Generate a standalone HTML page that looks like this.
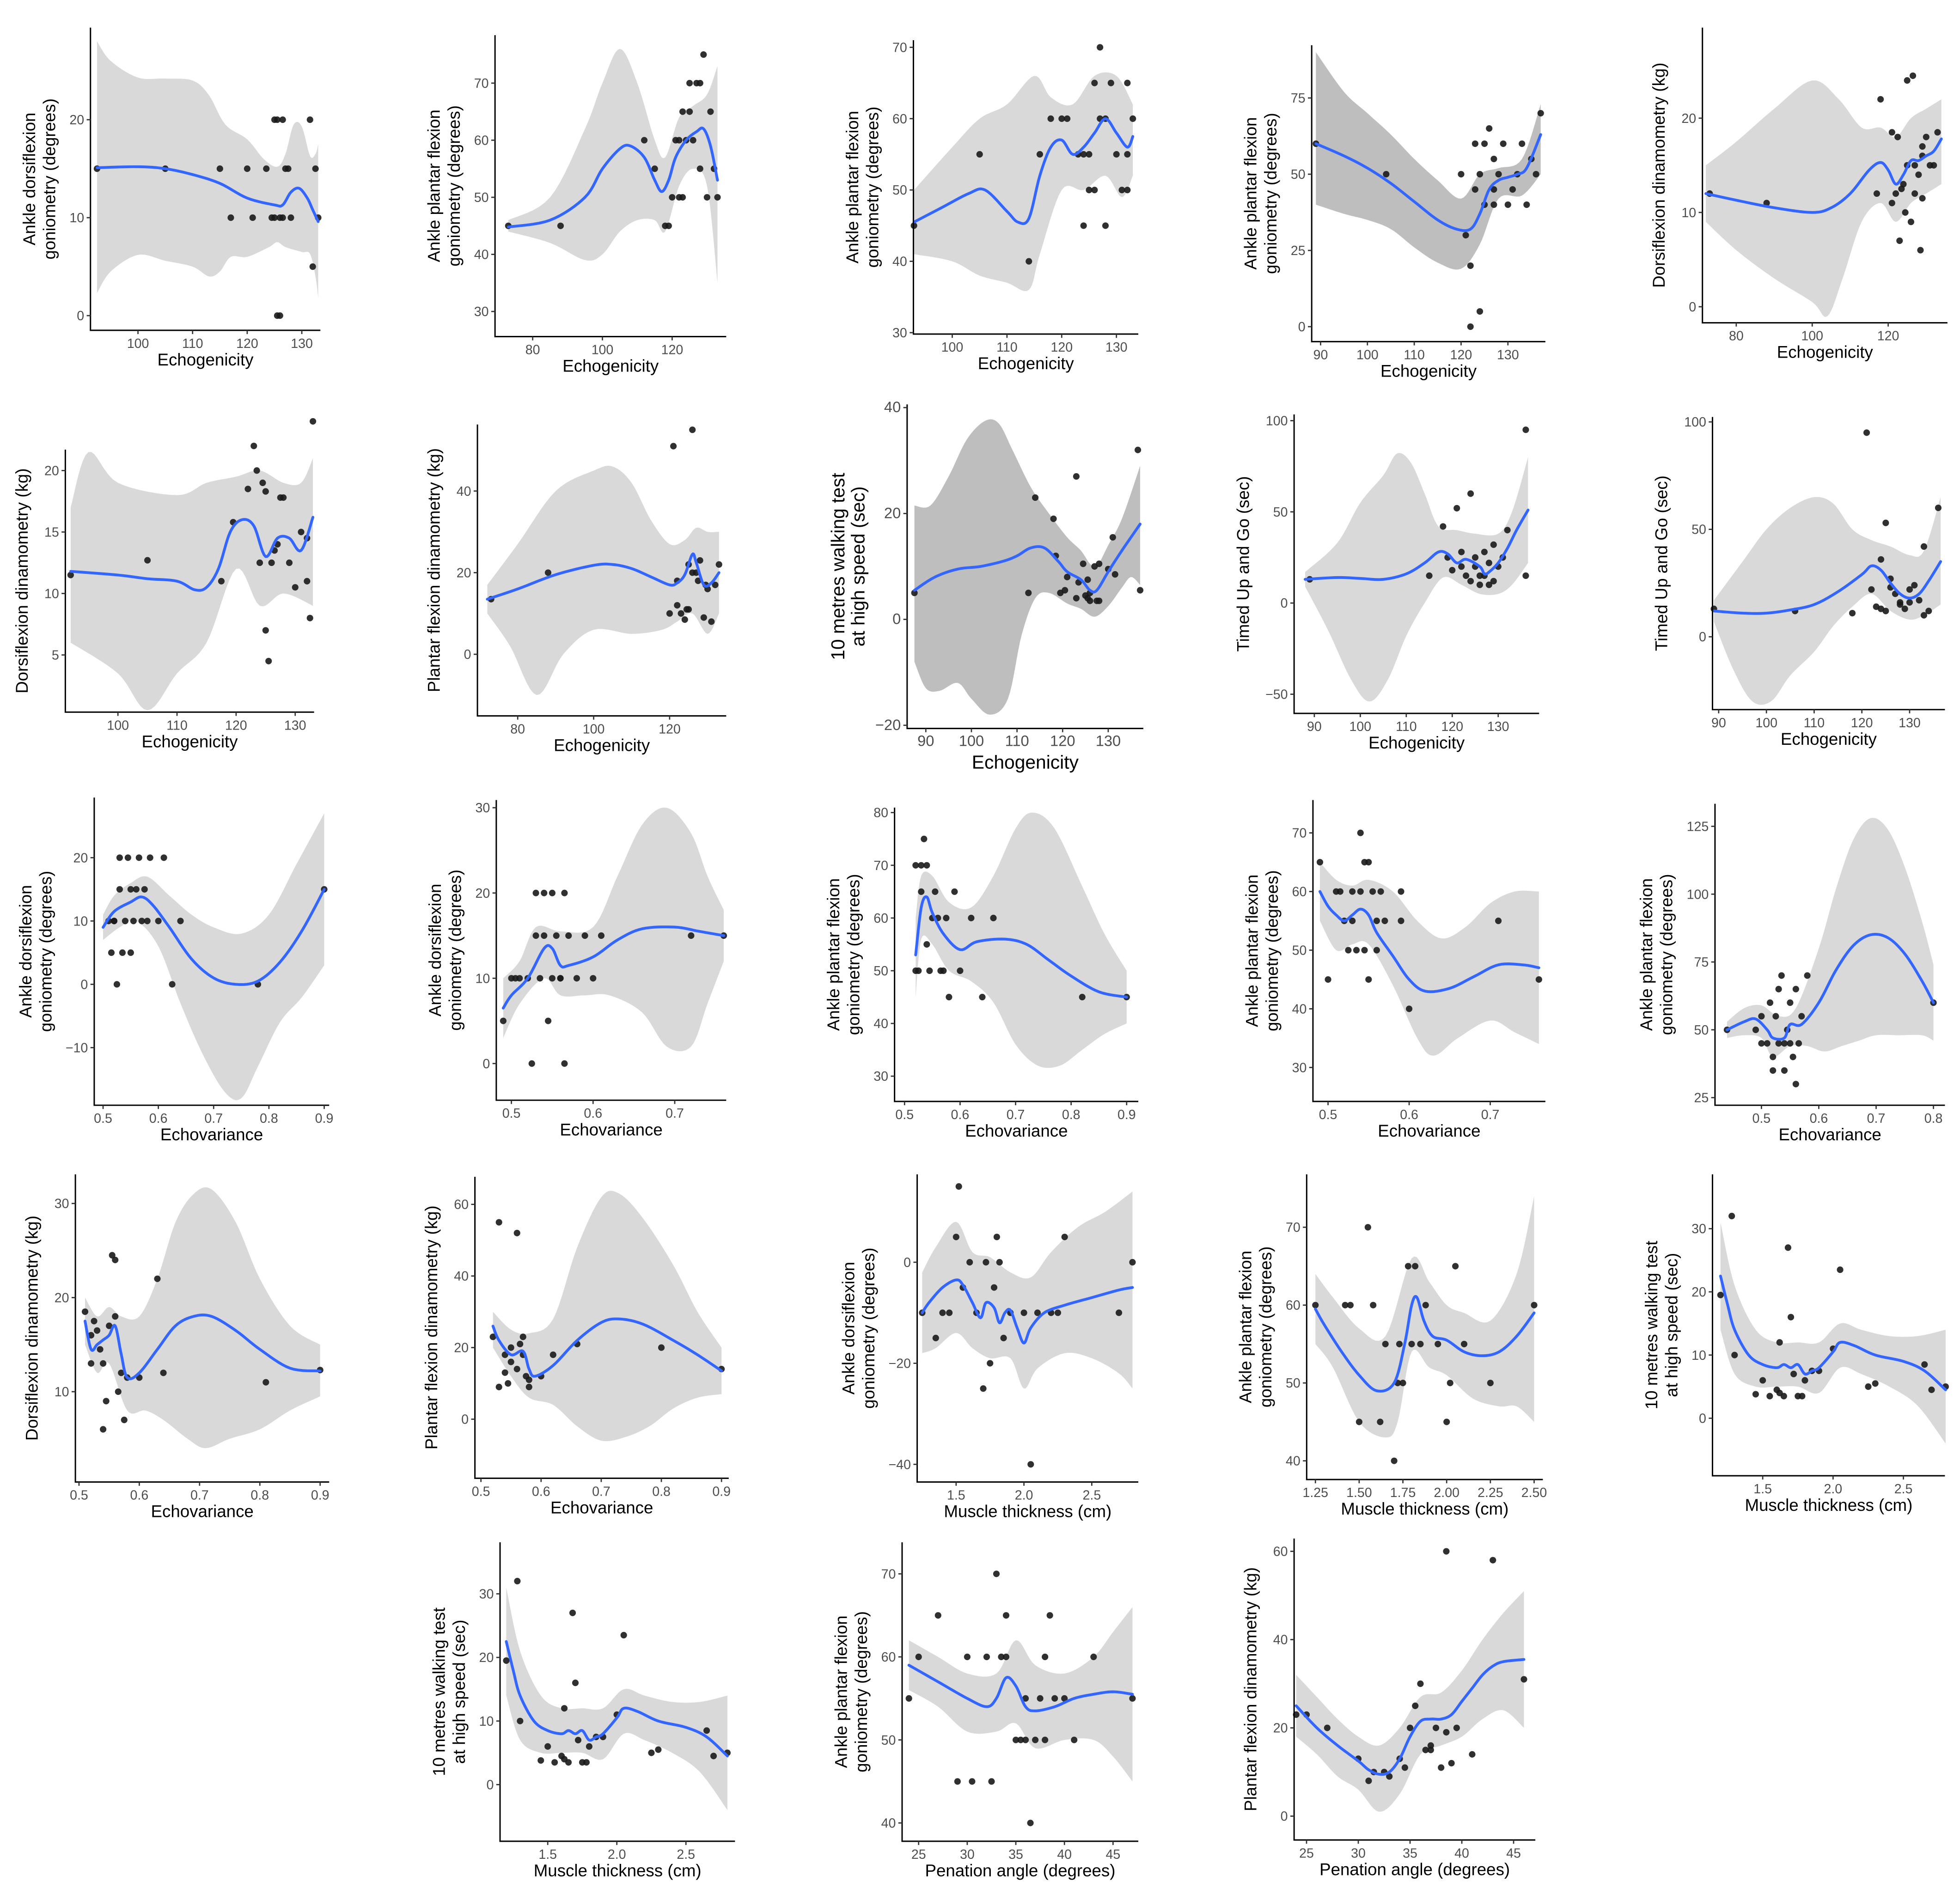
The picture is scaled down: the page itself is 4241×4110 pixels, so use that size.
<!DOCTYPE html>
<html><head><meta charset="utf-8"><style>
html,body{margin:0;padding:0;background:#fff;}
svg{display:block;}
text{font-family:"Liberation Sans",Arial,sans-serif;}
</style></head><body>
<svg id="fig" width="4241" height="4110" viewBox="0 0 1560 1512" preserveAspectRatio="none" xmlns="http://www.w3.org/2000/svg"></svg>
<script>
// ---- data (x,y pairs) ----
const p1Pts=[[92.5,15],[105,15],[115,15],[117,10],[120,15],[121,10],[123.5,15],[124.5,10],[125,20],[125.5,20],[125,10],[125.5,0],[126,0],[126.5,20],[126,10],[127,15],[127.5,15],[128,10],[131.5,20],[132.5,15],[132,5],[133,10],[126.5,10]];
const p1Fit=[[92.5,15.1],[100,15.2],[105,15],[110,14.4],[115,13.5],[120,12],[125,11.3],[126.5,11.3],[128,12.6],[129.5,13],[131,12],[132,10.8],[133,9.6]];
const p1Hi=[[92.5,28],[95,26],[100,24.3],[105,24.2],[110,24],[113,22.5],[116,19.5],[120,18],[123,16],[125.5,15.2],[127,16.5],[128.5,19.5],[130,19.3],[131.5,16.3],[132.5,16.5],[133,17.5]];
const p1Lo=[[92.5,2.3],[95,4.5],[100,6.2],[105,5.6],[110,5],[113,4],[115,4.5],[117,6],[120,6],[124,7],[125.5,7.5],[127,7],[130,6.5],[131.5,6.3],[132.5,4],[133,1.8]];
const p2Pts=[[73,45],[88,45],[112,60],[115,55],[118,45],[119,45],[120,50],[121,60],[122,60],[122,50],[123,65],[123,50],[124,60],[125,70],[125,65],[126,60],[127,70],[128,70],[128,55],[129,75],[130,50],[131,65],[132,55],[133,50]];
const p2Fit=[[73,44.8],[85,46],[95,50],[100,55],[105,58.5],[108,59],[112,57],[115,53],[117,51],[119,53],[121,57],[124,60],[127,61.5],[129,62],[131,59],[133,53]];
const p2Hi=[[73,46],[85,50],[95,62],[100,70],[105,76],[110,70],[115,60],[118,57],[122,64],[126,66],[130,68],[133,73]];
const p2Lo=[[73,44],[85,42],[95,39],[100,40],[105,44],[110,46],[115,46],[118,44],[122,52],[126,55],[130,52],[133,35]];
const p3Pts=[[93,45],[105,55],[114,40],[116,55],[118,60],[120,60],[121,60],[123,55],[124,45],[124,55],[125,55],[125,50],[126,50],[126,65],[127,70],[127,60],[128,60],[128,45],[129,65],[130,55],[131,50],[132,65],[132,55],[133,60],[132,50]];
const p3Fit=[[93,45.5],[98,47.5],[103,49.5],[106,50],[110,47],[112,45.5],[114,46],[116,52],[118,56],[120,57],[122,55],[124,56],[126,58],[128,60],[130,58],[132,56],[133,57.5]];
const p3Hi=[[93,50],[100,56],[105,60],[110,62],[115,66],[118,63],[122,62],[126,66],[130,66],[133,62]];
const p3Lo=[[93,41],[100,40],[105,38],[110,37],[114,36],[116,41],[120,50],[124,50],[128,52],[131,49],[133,52]];
const p4Pts=[[89,60],[104,50],[120,50],[121,30],[122,20],[122,0],[123,45],[124,5],[124,50],[125,40],[125,60],[126,65],[127,45],[127,40],[128,50],[129,60],[130,40],[131,45],[132,50],[133,60],[134,40],[135,55],[136,50],[137,70],[123,60],[127,55]];
const p4Fit=[[89,60],[95,56],[100,52],[105,47],[110,41],[115,35],[119,32],[122,32],[124,37],[126,45],[128,48],[130,49],[132,50],[134,52],[137,63]];
const p4Hi=[[89,90],[95,77],[100,70],[105,63],[110,55],[115,48],[120,42],[124,50],[128,52],[133,55],[137,73]];
const p4Lo=[[89,40],[95,37],[100,35],[105,32],[110,26],[115,21],[120,19],[124,27],[128,42],[133,43],[137,50]];
const p5Pts=[[73,12],[88,11],[117,12],[118,22],[121,18.5],[121,11],[122,12],[122.5,18],[123,7],[123.5,12.5],[124,13],[124.5,10],[125,24],[125,15],[126,9],[126.5,24.5],[127,15],[127,12],[128,14],[128.5,6],[129,17],[129,16],[130,18],[131,15],[132,15],[133,18.5],[129,11.5]];
const p5Fit=[[72,12],[80,11.3],[90,10.5],[100,10],[105,10.5],[110,12],[115,14.5],[118,15.3],[120,14.5],[122,13],[124,14],[126,15.5],[128,15.5],[130,16],[132,16.5],[134,17.8]];
const p5Hi=[[72,15],[80,17.5],[90,21],[100,24],[107,22],[113,19],[118,19],[122,18],[126,20],[130,21],[134,22]];
const p5Lo=[[72,9],[80,6],[90,3],[100,0.5],[104,-1],[108,3],[113,9],[118,11],[122,9],[126,11],[130,12],[134,13]];
const p6Pts=[[92,11.5],[105,12.7],[117.5,11],[119.5,15.8],[122,18.5],[123,22],[123.5,20],[124,12.5],[124.5,19],[125,7],[125.5,4.5],[125,18.3],[126,12.5],[126.5,13.5],[127,14],[127.5,17.8],[128,17.8],[129,12.5],[130,10.5],[131,15],[132,11],[132.5,8],[133,24],[132,14.5]];
const p6Fit=[[92,11.8],[100,11.5],[105,11.2],[110,11],[113,10.3],[115,10.5],[117,12],[119,15],[121,16],[123,15.5],[125,13],[127,14.5],[129,14.5],[131,13.5],[133,16.2]];
const p6Hi=[[92,17],[95,21.5],[100,19],[110,18],[115,19],[120,19.5],[124,20],[128,19],[131,19],[133,21]];
const p6Lo=[[92,6],[100,3.5],[105,0.5],[110,3.5],[115,6],[120,12],[124,9],[128,10],[133,9]];
const p7Pts=[[73,13.5],[88,20],[121,51],[122,12],[123,10],[124,8.5],[124.5,11],[125,22],[126,55],[126,20],[127,20],[127.5,18],[128,23],[129,9],[129.5,17],[130,16],[131,8],[132,17],[133,22],[125,11],[122,18],[120,10]];
const p7Fit=[[72,13.5],[80,16],[90,19.5],[100,21.8],[105,22],[110,21],[115,19],[120,17],[122,17.5],[124,19.5],[126,24.5],[127,22.5],[129,17],[131,17.5],[133,20]];
const p7Hi=[[72,17],[80,27],[90,40],[100,45],[105,46],[110,42],[115,33],[120,27],[124,28],[127,31],[130,30],[133,30]];
const p7Lo=[[72,10],[78,2],[85,-10],[92,0],[100,6],[110,5],[118,6],[122,8],[126,10],[130,5],[133,10]];
const p8Pts=[[87.5,5],[112.5,5],[114,23],[118,19],[118.5,12],[119.5,5],[120.5,5.5],[121,8],[123,27],[123,4],[123.5,7],[124.5,10.5],[125,4.5],[125.5,7.5],[125.5,4],[126,5],[126,3.5],[127,10],[127.5,3.5],[128,3.5],[128,10.5],[130,9.5],[131,15.5],[131.5,8.5],[136.5,32],[137,5.5]];
const p8Fit=[[87.5,5.5],[92,8],[97,9.5],[102,10],[107,11],[110,12],[113,13.5],[116,13.5],[119,11],[121,9],[124,7.5],[126,5.5],[127.5,5.5],[130,9],[133,13],[137,18]];
const p8Hi=[[87.5,21.5],[91,21.5],[95,27],[99,34],[103,37.5],[106,37],[109,32],[113,25],[117,20],[121,15.5],[124,13],[126,10.5],[127.5,10],[130,14],[133,19],[137,29]];
const p8Lo=[[87.5,-8],[90,-13],[93,-13.5],[97,-12],[100,-15],[104,-18],[108,-15],[111,-3],[114,4],[117,5],[121,3],[124,2],[127,0.5],[130,2.5],[133,6],[135,8],[137,6.5]];
const p9Pts=[[89,13],[115,15],[118,42],[119,25],[120,18],[121,52],[122,20],[123,15],[124,12],[124,60],[125,25],[125,20],[126,10],[127,15],[127,28],[128,22],[128,10],[129,32],[129,12],[130,20],[131,25],[132,40],[136,95],[136,15],[126,15],[122,28]];
const p9Fit=[[88,13],[95,14],[100,13.5],[105,13],[110,16],[114,22],[117,28],[119,27],[121,22],[123,24],[126,20],[127,16],[128,17],[130,22],[132,30],[134,40],[136.5,51]];
const p9Hi=[[88,17],[95,33],[100,55],[105,70],[108,82],[111,77],[114,60],[117,42],[121,40],[125,38],[130,38],[133,50],[136.5,80]];
const p9Lo=[[88,9],[93,-15],[98,-42],[102,-54],[106,-42],[110,-18],[114,0],[118,14],[122,10],[126,5],[130,5],[133,10],[136.5,22]];
const p10Pts=[[89,13],[106,12],[118,11],[121,95],[122,22],[123,14],[124,13],[124,36],[125,53],[126,27],[126,23],[127,20],[128,15],[128,16],[129,13],[130,16],[130,22],[131,24],[132,17],[133,10],[133,42],[134,12],[136,60],[125,12]];
const p10Fit=[[89,12],[95,11],[100,11],[105,12.5],[110,15],[115,21],[120,29],[122,33],[124,31],[126,25],[128,20],[130,18],[132,20],[134,26],[136.5,35]];
const p10Hi=[[89,17],[95,35],[100,50],[105,60],[110,65],[114,62],[118,50],[122,45],[126,42],[130,38],[133,40],[136.5,65]];
const p10Lo=[[89,7],[93,-15],[97,-30],[101,-30],[105,-18],[110,-7],[114,5],[118,14],[122,20],[126,12],[130,8],[133,10],[136.5,15]];
const p11Pts=[[0.51,10],[0.515,5],[0.52,10],[0.525,0],[0.53,15],[0.53,20],[0.535,5],[0.54,10],[0.545,20],[0.55,15],[0.555,10],[0.56,15],[0.565,20],[0.57,10],[0.575,15],[0.58,10],[0.585,20],[0.6,10],[0.61,20],[0.625,0],[0.64,10],[0.78,0],[0.9,15],[0.55,5],[0.52,10]];
const p11Fit=[[0.5,9],[0.52,11.5],[0.55,13],[0.57,13.8],[0.59,12.5],[0.62,9],[0.66,4],[0.7,1],[0.74,0],[0.78,0.5],[0.82,3.5],[0.86,8.5],[0.9,15]];
const p11Hi=[[0.5,11],[0.52,14],[0.55,16],[0.58,17],[0.62,14],[0.66,11],[0.7,9],[0.75,8],[0.8,11],[0.85,19],[0.9,27]];
const p11Lo=[[0.5,7],[0.53,9],[0.56,10],[0.6,6],[0.64,-3],[0.68,-11],[0.72,-17],[0.75,-18],[0.78,-13],[0.82,-6],[0.86,-2],[0.9,3]];
const p12Pts=[[0.49,5],[0.5,10],[0.505,10],[0.51,10],[0.52,10],[0.525,0],[0.53,15],[0.53,20],[0.535,10],[0.54,15],[0.54,20],[0.545,5],[0.55,20],[0.55,10],[0.555,15],[0.56,10],[0.565,0],[0.565,20],[0.57,15],[0.58,10],[0.59,15],[0.6,10],[0.61,15],[0.72,15],[0.76,15],[0.56,10]];
const p12Fit=[[0.49,6.5],[0.5,8],[0.52,10],[0.54,13.5],[0.55,13.5],[0.56,11.5],[0.57,11.5],[0.6,12.5],[0.63,14.5],[0.66,15.8],[0.7,16],[0.73,15.5],[0.76,15]];
const p12Hi=[[0.49,10],[0.51,12],[0.53,16],[0.56,15.5],[0.6,16],[0.63,22],[0.66,28],[0.69,30],[0.72,27],[0.74,22],[0.76,18]];
const p12Lo=[[0.49,3],[0.51,7],[0.54,10],[0.56,8],[0.59,8],[0.62,8],[0.66,6],[0.69,2],[0.72,2],[0.74,7],[0.76,12]];
const p13Pts=[[0.52,50],[0.52,70],[0.53,65],[0.53,70],[0.535,75],[0.54,55],[0.54,70],[0.545,50],[0.55,60],[0.555,65],[0.56,60],[0.565,50],[0.57,50],[0.575,60],[0.58,45],[0.59,65],[0.6,50],[0.62,60],[0.64,45],[0.66,60],[0.82,45],[0.9,45],[0.525,50]];
const p13Fit=[[0.52,53],[0.53,62],[0.54,64],[0.55,61],[0.57,57],[0.6,54],[0.63,55.5],[0.68,56],[0.72,55],[0.76,52],[0.8,49],[0.85,46],[0.9,45]];
const p13Hi=[[0.52,60],[0.53,68],[0.55,68],[0.58,63],[0.62,62],[0.66,68],[0.7,77],[0.73,80],[0.77,77],[0.82,66],[0.86,57],[0.9,50]];
const p13Lo=[[0.52,45],[0.53,56],[0.55,55],[0.58,50],[0.62,48],[0.66,44],[0.7,36],[0.74,32],[0.78,32],[0.82,35],[0.86,38],[0.9,40]];
const p14Pts=[[0.49,65],[0.5,45],[0.51,60],[0.515,60],[0.52,55],[0.525,50],[0.53,55],[0.53,60],[0.535,50],[0.54,70],[0.54,60],[0.545,65],[0.545,50],[0.55,45],[0.55,65],[0.555,60],[0.56,55],[0.56,50],[0.565,60],[0.57,55],[0.59,60],[0.59,55],[0.6,40],[0.71,55],[0.76,45]];
const p14Fit=[[0.49,60],[0.5,57.5],[0.51,56],[0.52,55],[0.53,56],[0.54,57],[0.55,56],[0.56,53],[0.58,49],[0.6,45],[0.62,43],[0.65,43.5],[0.68,45.5],[0.71,47.5],[0.74,47.5],[0.76,47]];
const p14Hi=[[0.49,65],[0.51,62],[0.53,61],[0.55,62],[0.58,60],[0.61,55],[0.64,52],[0.67,54],[0.7,58],[0.73,60],[0.76,60]];
const p14Lo=[[0.49,55],[0.51,50],[0.53,51],[0.55,51],[0.58,44],[0.61,35],[0.63,32],[0.66,35],[0.7,38],[0.73,36],[0.76,34]];
const p15Pts=[[0.44,50],[0.49,50],[0.5,55],[0.51,45],[0.515,60],[0.52,40],[0.52,35],[0.53,45],[0.53,65],[0.535,70],[0.54,45],[0.54,35],[0.545,50],[0.55,45],[0.55,60],[0.555,40],[0.56,65],[0.56,30],[0.565,45],[0.57,55],[0.58,70],[0.8,60],[0.5,45],[0.525,55]];
const p15Fit=[[0.44,50],[0.47,53],[0.49,54],[0.51,50],[0.52,47],[0.54,47],[0.55,52],[0.57,52],[0.6,60],[0.63,72],[0.66,81],[0.69,85],[0.72,84],[0.75,78],[0.78,68],[0.8,60]];
const p15Hi=[[0.44,53],[0.47,58],[0.5,59],[0.53,55],[0.56,58],[0.6,80],[0.63,102],[0.66,120],[0.69,128],[0.72,124],[0.75,110],[0.78,90],[0.8,74]];
const p15Lo=[[0.44,47],[0.47,48],[0.5,47],[0.52,40],[0.55,44],[0.58,44],[0.61,42],[0.64,44],[0.67,46],[0.7,48],[0.74,48],[0.78,48],[0.8,46]];
const p16Pts=[[0.51,18.5],[0.52,13],[0.525,17.5],[0.53,16.5],[0.535,14.5],[0.54,13],[0.54,6],[0.545,9],[0.55,17],[0.555,24.5],[0.56,24],[0.56,18],[0.565,10],[0.57,12],[0.575,7],[0.58,11.5],[0.6,11.5],[0.63,22],[0.64,12],[0.81,11],[0.9,12.3],[0.52,16]];
const p16Fit=[[0.51,17.5],[0.52,14.5],[0.53,15],[0.54,15.5],[0.55,16],[0.56,17],[0.57,14],[0.58,11.5],[0.6,12],[0.63,14.5],[0.66,17],[0.69,18],[0.72,18],[0.76,16.5],[0.8,14.5],[0.85,12.5],[0.9,12.2]];
const p16Hi=[[0.51,20],[0.53,18],[0.55,19],[0.57,18],[0.6,18],[0.63,22],[0.66,28],[0.69,31],[0.72,31.5],[0.76,28],[0.8,22],[0.85,17],[0.9,15]];
const p16Lo=[[0.51,15],[0.53,12],[0.55,13],[0.58,8],[0.61,8],[0.64,7],[0.68,5],[0.71,4],[0.75,5],[0.8,6],[0.85,8],[0.9,9.5]];
const p17Pts=[[0.52,23],[0.53,55],[0.53,9],[0.54,18],[0.545,10],[0.55,20],[0.55,16],[0.56,52],[0.56,14],[0.565,21],[0.57,23],[0.575,12],[0.58,9],[0.58,11],[0.6,12],[0.62,18],[0.66,21],[0.8,20],[0.9,14],[0.54,13],[0.57,18]];
const p17Fit=[[0.52,26],[0.53,22],[0.55,18],[0.57,19],[0.58,14],[0.59,12],[0.62,15],[0.66,22],[0.7,27],[0.73,28],[0.77,26.5],[0.82,22],[0.86,18],[0.9,13.5]];
const p17Hi=[[0.52,30],[0.55,25],[0.58,24],[0.62,28],[0.66,48],[0.7,62],[0.73,63],[0.77,56],[0.82,43],[0.86,30],[0.9,20]];
const p17Lo=[[0.52,20],[0.55,12],[0.58,6],[0.62,4],[0.66,-2],[0.7,-6],[0.74,-5],[0.78,-2],[0.82,3],[0.86,6],[0.9,7]];
const p18Pts=[[1.25,-10],[1.35,-15],[1.4,-10],[1.45,-10],[1.5,5],[1.52,15],[1.55,-5],[1.6,0],[1.65,-10],[1.7,-25],[1.72,0],[1.75,-20],[1.78,-5],[1.8,5],[1.82,0],[1.85,-15],[1.9,-10],[2.0,-10],[2.05,-40],[2.1,-10],[2.25,-10],[2.3,5],[2.7,-10],[2.8,0],[2.2,-10]];
const p18Fit=[[1.25,-10],[1.3,-8],[1.4,-5],[1.5,-3.5],[1.55,-4.5],[1.62,-8],[1.68,-11],[1.72,-8],[1.78,-9],[1.82,-12],[1.86,-10],[1.9,-9.5],[1.95,-13],[2.0,-16],[2.05,-13],[2.15,-10],[2.3,-8.5],[2.5,-7],[2.7,-5.5],[2.8,-5]];
const p18Hi=[[1.25,-2],[1.35,3],[1.5,8],[1.62,2],[1.75,1],[1.9,-2],[2.05,-3],[2.2,2],[2.4,7],[2.6,10],[2.8,14]];
const p18Lo=[[1.25,-18],[1.35,-17],[1.5,-14],[1.62,-17],[1.75,-19],[1.9,-19],[2.0,-25],[2.1,-21],[2.3,-18],[2.5,-19],[2.7,-22],[2.8,-25]];
const p19Pts=[[1.25,60],[1.45,60],[1.5,45],[1.58,60],[1.62,45],[1.65,55],[1.7,40],[1.72,50],[1.73,55],[1.75,50],[1.78,65],[1.8,55],[1.82,65],[1.85,55],[1.88,60],[1.95,55],[2.0,45],[2.02,50],[2.05,65],[2.1,55],[2.25,50],[2.5,60],[1.55,70],[1.42,60]];
const p19Fit=[[1.25,59.5],[1.3,57.5],[1.4,54],[1.5,51],[1.6,49],[1.7,50],[1.76,55],[1.8,60],[1.83,61],[1.87,58],[1.92,56],[2.0,55.5],[2.1,54],[2.2,53.5],[2.3,54],[2.4,56],[2.5,59]];
const p19Hi=[[1.25,64],[1.35,61],[1.5,57],[1.65,56],[1.8,66],[1.9,63],[2.0,60],[2.1,59],[2.25,58],[2.4,64],[2.5,74]];
const p19Lo=[[1.25,55],[1.35,52],[1.5,45],[1.65,43],[1.72,45],[1.8,54],[1.9,52],[2.0,51],[2.15,48],[2.3,47],[2.4,47],[2.5,45]];
const p20Pts=[[1.2,19.5],[1.28,32],[1.3,10],[1.45,3.8],[1.5,6],[1.55,3.5],[1.6,4.5],[1.62,12],[1.65,3.5],[1.68,27],[1.7,16],[1.72,7],[1.75,3.5],[1.78,3.5],[1.8,6],[1.85,7.5],[1.9,7.5],[2.0,11],[2.05,23.5],[2.25,5],[2.3,5.5],[2.65,8.5],[2.7,4.5],[2.8,5],[1.62,4]];
const p20Fit=[[1.2,22.5],[1.25,18],[1.3,14],[1.4,10],[1.5,8.5],[1.6,8],[1.65,8.5],[1.7,8],[1.75,8.5],[1.8,7],[1.85,7.5],[1.9,8],[2.0,10.5],[2.05,12],[2.15,11.5],[2.3,10],[2.5,9],[2.65,7.5],[2.8,4.5]];
const p20Hi=[[1.2,31],[1.3,21],[1.45,14],[1.6,12],[1.75,12],[1.9,12],[2.05,15],[2.2,14],[2.4,13],[2.6,13],[2.8,14]];
const p20Lo=[[1.2,14],[1.3,7],[1.45,5],[1.6,5],[1.75,5],[1.9,4],[2.05,8],[2.2,7],[2.4,5],[2.6,2],[2.8,-4]];
const p21Pts=[[1.2,19.5],[1.28,32],[1.3,10],[1.45,3.8],[1.5,6],[1.55,3.5],[1.6,4.5],[1.62,12],[1.65,3.5],[1.68,27],[1.7,16],[1.72,7],[1.75,3.5],[1.78,3.5],[1.8,6],[1.85,7.5],[1.9,7.5],[2.0,11],[2.05,23.5],[2.25,5],[2.3,5.5],[2.65,8.5],[2.7,4.5],[2.8,5],[1.62,4]];
const p21Fit=[[1.2,22.5],[1.25,18],[1.3,14],[1.4,10],[1.5,8.5],[1.6,8],[1.65,8.5],[1.7,8],[1.75,8.5],[1.8,7],[1.85,7.5],[1.9,8],[2.0,10.5],[2.05,12],[2.15,11.5],[2.3,10],[2.5,9],[2.65,7.5],[2.8,4.5]];
const p21Hi=[[1.2,31],[1.3,21],[1.45,14],[1.6,12],[1.75,12],[1.9,12],[2.05,15],[2.2,14],[2.4,13],[2.6,13],[2.8,14]];
const p21Lo=[[1.2,14],[1.3,7],[1.45,5],[1.6,5],[1.75,5],[1.9,4],[2.05,8],[2.2,7],[2.4,5],[2.6,2],[2.8,-4]];
const p22Pts=[[24,55],[25,60],[27,65],[29,45],[30,60],[30.5,45],[32,60],[32.5,45],[33,70],[33.5,60],[34,65],[35,50],[35.5,50],[36,55],[36.5,40],[37,50],[37.5,55],[38,60],[38,50],[38.5,65],[39,55],[40,55],[41,50],[43,60],[47,55],[34,60],[36,50]];
const p22Fit=[[24,59],[27,57],[30,55],[32,54],[33,55],[34,57.5],[35,56.5],[36,54],[37,53.5],[39,54],[41,55],[43,55.5],[45,55.8],[47,55.5]];
const p22Hi=[[24,62],[27,60],[30,58],[33,58],[35,62],[37,59],[40,58],[43,60],[45,63],[47,66]];
const p22Lo=[[24,56],[27,54],[30,51],[33,51],[35,52],[37,49],[40,50],[43,50],[45,48],[47,45]];
const p23Pts=[[24,23],[25,23],[27,20],[30,13],[31,8],[31.5,10],[32.5,10],[33,9],[34,13],[34.5,11],[35,20],[35.5,25],[36,30],[36.5,15],[37,16],[37.5,20],[38,11],[38.5,60],[38.5,19],[39,12],[39.5,20],[41,14],[43,58],[46,31],[37,15]];
const p23Fit=[[24,25],[26,20],[28,16],[30,12.5],[31,10.5],[32,9.5],[33,10],[34,13],[35,18],[36,21.5],[37,22],[38,22],[39,23],[40,26],[41,29],[42,32],[43,34],[44,35],[46,35.5]];
const p23Hi=[[24,32],[26,27],[28,22],[30,18],[32,16],[34,20],[36,27],[38,28],[40,33],[42,40],[44,46],[46,51]];
const p23Lo=[[24,18],[26,14],[28,9],[30,6],[32,1],[34,5],[36,14],[38,16],[40,18],[42,22],[44,24],[46,20]];
// tick labels
const echoT1=["100","110","120","130"], echoT2=["80","100","120"], echoT3=["90","100","110","120","130"];
const varT1=["0.5","0.6","0.7","0.8","0.9"], varT2=["0.5","0.6","0.7"], varT3=["0.5","0.6","0.7","0.8"];
const mtT=["1.5","2.0","2.5"], mtT2=["1.25","1.50","1.75","2.00","2.25","2.50"], penT=["25","30","35","40","45"];
const EG="Echogenicity", EV="Echovariance", MT="Muscle thickness (cm)", PA="Penation angle (degrees)";
const DF=["Ankle dorsiflexion","goniometry (degrees)"], PF=["Ankle plantar flexion","goniometry (degrees)"];
const DD=["Dorsiflexion dinamometry (kg)"], PD=["Plantar flexion dinamometry (kg)"], TW=["10 metres walking test","at high speed (sec)"], TUG=["Timed Up and Go (sec)"];

// panel config: box=[left,top,right,bottom] (layout), xd/yd domains
const panels=[
{n:1,pts:p1Pts,fit:p1Fit,hi:p1Hi,lo:p1Lo,box:[72,22,255,263],xd:[91.3,133.4],yd:[-1.5,29.4],xt:echoT1,yt:["0","10","20"],xl:EG,yl:DF},
{n:2,pts:p2Pts,fit:p2Fit,hi:p2Hi,lo:p2Lo,box:[394,28,578,268],xd:[69.2,135.5],yd:[25.6,78.4],xt:echoT2,yt:["30","40","50","60","70"],xl:EG,yl:PF},
{n:3,pts:p3Pts,fit:p3Fit,hi:p3Hi,lo:p3Lo,box:[727,32,906,266],xd:[92.9,134],yd:[29.8,71],xt:echoT1,yt:["30","40","50","60","70"],xl:EG,yl:PF},
{n:4,pts:p4Pts,fit:p4Fit,hi:p4Hi,lo:p4Lo,box:[1044,36,1230,272],xd:[88.1,138],yd:[-4.9,92.3],xt:echoT3,yt:["0","25","50","75"],xl:EG,yl:PF,dark:true},
{n:5,pts:p5Pts,fit:p5Fit,hi:p5Hi,lo:p5Lo,box:[1355,22,1550,257],xd:[71.1,135.6],yd:[-1.7,29.6],xt:echoT2,yt:["0","10","20"],xl:EG,yl:DD},
{n:6,pts:p6Pts,fit:p6Fit,hi:p6Hi,lo:p6Lo,box:[52,358,250,567],xd:[91.1,133.2],yd:[0.35,21.7],xt:echoT1,yt:["5","10","15","20"],xl:EG,yl:DD},
{n:7,pts:p7Pts,fit:p7Fit,hi:p7Hi,lo:p7Lo,box:[380,338,578,570],xd:[69.4,134.9],yd:[-15.1,56.3],xt:echoT2,yt:["0","20","40"],xl:EG,yl:PD},
{n:8,pts:p8Pts,fit:p8Fit,hi:p8Hi,lo:p8Lo,box:[722,322,910,580],xd:[85.9,137.7],yd:[-20.6,40.6],xt:echoT3,yt:["-20","0","20","40"],xl:EG,yl:TW,dark:true,big:true},
{n:9,pts:p9Pts,fit:p9Fit,hi:p9Hi,lo:p9Lo,box:[1030,330,1225,568],xd:[85.6,138.9],yd:[-60.5,103.4],xt:echoT3,yt:["-50","0","50","100"],xl:EG,yl:TUG},
{n:10,pts:p10Pts,fit:p10Fit,hi:p10Hi,lo:p10Lo,box:[1363,332,1548,565],xd:[88.7,137.4],yd:[-33.9,102.3],xt:echoT3,yt:["0","50","100"],xl:EG,yl:TUG},
{n:11,pts:p11Pts,fit:p11Fit,hi:p11Hi,lo:p11Lo,box:[75,635,262,880],xd:[0.484,0.909],yd:[-19.1,29.5],xt:varT1,yt:["-10","0","10","20"],xl:EV,yl:DF},
{n:12,pts:p12Pts,fit:p12Fit,hi:p12Hi,lo:p12Lo,box:[395,637,578,876],xd:[0.4815,0.763],yd:[-4.3,30.9],xt:varT2,yt:["0","10","20","30"],xl:EV,yl:DF},
{n:13,pts:p13Pts,fit:p13Fit,hi:p13Hi,lo:p13Lo,box:[712,643,906,877],xd:[0.482,0.921],yd:[25.2,80.95],xt:varT1,yt:["30","40","50","60","70","80"],xl:EV,yl:PF},
{n:14,pts:p14Pts,fit:p14Fit,hi:p14Hi,lo:p14Lo,box:[1045,637,1230,877],xd:[0.4814,0.768],yd:[24.2,75.6],xt:varT2,yt:["30","40","50","60","70"],xl:EV,yl:PF},
{n:15,pts:p15Pts,fit:p15Fit,hi:p15Hi,lo:p15Lo,box:[1365,640,1548,880],xd:[0.419,0.82],yd:[22.2,133.3],xt:varT3,yt:["25","50","75","100","125"],xl:EV,yl:PF},
{n:16,pts:p16Pts,fit:p16Fit,hi:p16Hi,lo:p16Lo,box:[60,935,262,1180],xd:[0.494,0.915],yd:[0.4,33.1],xt:varT1,yt:["10","20","30"],xl:EV,yl:DD},
{n:17,pts:p17Pts,fit:p17Fit,hi:p17Hi,lo:p17Lo,box:[378,937,580,1177],xd:[0.49,0.912],yd:[-16.5,67.7],xt:varT1,yt:["0","20","40","60"],xl:EV,yl:PD},
{n:18,pts:p18Pts,fit:p18Fit,hi:p18Hi,lo:p18Lo,box:[730,935,906,1180],xd:[1.213,2.843],yd:[-43.5,17.4],xt:mtT,yt:["-40","-20","0"],xl:MT,yl:DF},
{n:19,pts:p19Pts,fit:p19Fit,hi:p19Hi,lo:p19Lo,box:[1040,935,1228,1178],xd:[1.2,2.55],yd:[37.6,76.8],xt:mtT2,yt:["40","50","60","70"],xl:MT,yl:PF},
{n:20,pts:p20Pts,fit:p20Fit,hi:p20Hi,lo:p20Lo,box:[1363,935,1548,1175],xd:[1.143,2.795],yd:[-9.1,38.6],xt:mtT,yt:["0","10","20","30"],xl:MT,yl:TW},
{n:21,pts:p21Pts,fit:p21Fit,hi:p21Hi,lo:p21Lo,box:[398,1228,585,1466],xd:[1.155,2.855],yd:[-8.9,38.1],xt:mtT,yt:["0","10","20","30"],xl:MT,yl:TW},
{n:22,pts:p22Pts,fit:p22Fit,hi:p22Hi,lo:p22Lo,box:[718,1228,906,1466],xd:[23.3,47.6],yd:[37.8,73.8],xt:penT,yt:["40","50","60","70"],xl:PA,yl:PF},
{n:23,pts:p23Pts,fit:p23Fit,hi:p23Hi,lo:p23Lo,box:[1030,1225,1222,1465],xd:[23.8,47.1],yd:[-5.4,62.9],xt:penT,yt:["0","20","40","60"],xl:PA,yl:PD}
];

const NS="http://www.w3.org/2000/svg";
const svg=document.getElementById('fig');
function mk(tag,attrs,parent){const e=document.createElementNS(NS,tag);for(const k in attrs)e.setAttribute(k,attrs[k]);parent.appendChild(e);return e;}
function spline(p,n){const out=[];for(let i=0;i<p.length-1;i++){const p0=p[i-1]||p[i],p1=p[i],p2=p[i+1],p3=p[i+2]||p[i+1];for(let j=0;j<n;j++){const t=j/n,t2=t*t,t3=t2*t;const f=(a,b,c,d)=>0.5*((2*b)+(-a+c)*t+(2*a-5*b+4*c-d)*t2+(-a+3*b-3*c+d)*t3);out.push([f(p0[0],p1[0],p2[0],p3[0]),f(p0[1],p1[1],p2[1],p3[1])]);}}out.push(p[p.length-1]);return out;}
const ptsStr=a=>a.map(q=>q[0].toFixed(2)+','+q[1].toFixed(2)).join(' ');

panels.forEach(P=>{
  const [L,T,R,B]=P.box;
  const sx=v=>L+(v-P.xd[0])/(P.xd[1]-P.xd[0])*(R-L);
  const sy=v=>B-(v-P.yd[0])/(P.yd[1]-P.yd[0])*(B-T);
  const g=mk('g',{},svg);
  
  
  const fs=P.big?15:13.5, ts=P.big?12:10.5;
  // band
  const hi=spline(P.hi.map(q=>[sx(q[0]),sy(q[1])]),8);
  const lo=spline(P.lo.map(q=>[sx(q[0]),sy(q[1])]),8).reverse();
  const band=mk('polygon',{points:ptsStr(hi.concat(lo)),fill:P.dark?'#bebebe':'#d9d9d9',stroke:'none'},g);
  
  
  // points
  P.pts.forEach(q=>{
    const c=mk('circle',{cx:sx(q[0]).toFixed(2),cy:sy(q[1]).toFixed(2),r:2.6,fill:'#1a1a1a','fill-opacity':0.9},g);
    
    
  });
  // fit line
  const fl=spline(P.fit.map(q=>[sx(q[0]),sy(q[1])]),8);
  const line=mk('polyline',{points:ptsStr(fl),fill:'none',stroke:'#3366ff','stroke-width':2.2,'stroke-linejoin':'round','stroke-linecap':'round'},g);
  
  
  // axes
  const ax=mk('path',{d:`M${L},${T}V${B}H${R}`,fill:'none',stroke:'#000','stroke-width':1.1},g);
  
  
  P.xt.forEach(s=>{const v=parseFloat(s),x=sx(v);
    mk('line',{x1:x,x2:x,y1:B,y2:B+3,stroke:'#333','stroke-width':1},g);
    const t=mk('text',{x:x,y:B+14,'font-size':ts,fill:'#4d4d4d','text-anchor':'middle'},g);t.textContent=s;
    
    });
  let mw=0;
  P.yt.forEach(s=>{const v=parseFloat(s),y=sy(v);
    mk('line',{x1:L-3,x2:L,y1:y,y2:y,stroke:'#333','stroke-width':1},g);
    const t=mk('text',{x:L-5,y:y+3.7,'font-size':ts,fill:'#4d4d4d','text-anchor':'end'},g);t.textContent=s.replace('-','\u2212');
    
    
    mw=Math.max(mw,s.length);});
  const xl=mk('text',{x:(L+R)/2,y:B+(P.big?32:28),'font-size':fs,fill:'#000','text-anchor':'middle'},g);xl.textContent=P.xl;
  
  
  const base=L-8-mw*6;
  const cy=(T+B)/2;
  const lines=P.yl;
  lines.forEach((s,i)=>{
    const x=lines.length===2?(i===0?base-24:base-8):base-10;
    const t=mk('text',{x:x,y:cy,'font-size':fs,fill:'#000','text-anchor':'middle',transform:`rotate(-90 ${x} ${cy})`},g);t.textContent=s;
    
    
  });
});
</script>
</body></html>
